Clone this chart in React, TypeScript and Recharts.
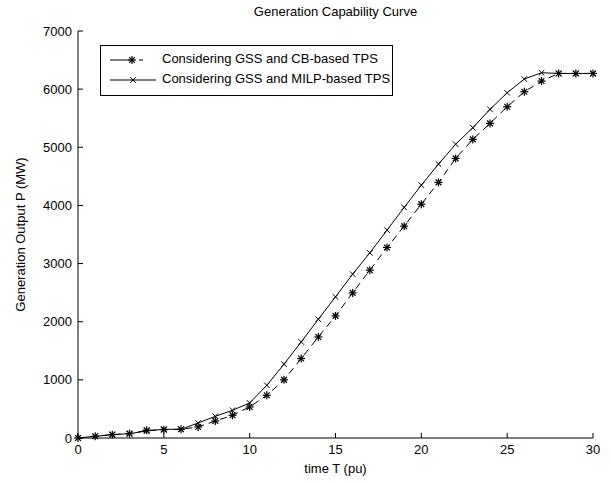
import React from "react";
import {
  CartesianGrid,
  Label,
  Legend,
  Line,
  LineChart,
  XAxis,
  YAxis,
} from "recharts";

// time T (pu)
const timeT = [
  0, 1, 2, 3, 4, 5, 6, 7, 8, 9, 10, 11, 12, 13, 14, 15, 16, 17, 18, 19, 20,
  21, 22, 23, 24, 25, 26, 27, 28, 29, 30,
];
// Considering GSS and CB-based TPS
const cbBased = [
  0, 30, 58, 75, 132, 144, 150, 190, 293, 391, 534, 735, 1000, 1367, 1738,
  2100, 2496, 2886, 3277, 3644, 4022, 4396, 4809, 5136, 5411, 5697, 5955,
  6139, 6270, 6270, 6270,
];
// Considering GSS and MILP-based TPS
const milpBased = [
  0, 30, 58, 75, 120, 150, 150, 258, 373, 477, 602, 907, 1270, 1652, 2043,
  2427, 2818, 3184, 3575, 3966, 4349, 4711, 5053, 5336, 5652, 5938, 6174,
  6282, 6270, 6270, 6270,
];
const xTicks = [0, 5, 10, 15, 20, 25, 30];
const yTicks = [0, 1000, 2000, 3000, 4000, 5000, 6000, 7000];
const seriesNames = [
  "Considering GSS and CB-based TPS",
  "Considering GSS and MILP-based TPS",
];

const data = timeT.map((t, i) => ({ t, cb: cbBased[i], milp: milpBased[i] }));

const FONT = "'Liberation Sans', Arial, Helvetica, sans-serif";
const tickStyle = { fill: "#000", fontSize: 13, fontFamily: FONT };

const StarDot = (props: any) => {
  const { cx, cy } = props;
  if (cx == null || cy == null) return null;
  const r = 4;
  const d = r * 0.72;
  return (
    <g stroke="#000" strokeWidth={1.2}>
      <line x1={cx - r} y1={cy} x2={cx + r} y2={cy} />
      <line x1={cx} y1={cy - r} x2={cx} y2={cy + r} />
      <line x1={cx - d} y1={cy - d} x2={cx + d} y2={cy + d} />
      <line x1={cx - d} y1={cy + d} x2={cx + d} y2={cy - d} />
    </g>
  );
};

const CrossDot = (props: any) => {
  const { cx, cy } = props;
  if (cx == null || cy == null) return null;
  const r = 2.8;
  return (
    <g stroke="#000" strokeWidth={1}>
      <line x1={cx - r} y1={cy - r} x2={cx + r} y2={cy + r} />
      <line x1={cx - r} y1={cy + r} x2={cx + r} y2={cy - r} />
    </g>
  );
};

const NoTick = () => <g />;

const LegendBox = () => (
  <div
    style={{
      width: 293,
      height: 51,
      border: "1px solid #000",
      background: "#fff",
      boxSizing: "border-box",
      fontFamily: FONT,
      fontSize: 13,
      color: "#000",
      position: "relative",
    }}
  >
    <svg width={60} height={51} style={{ position: "absolute", left: 0, top: 0 }}>
      <line x1={9} y1={14} x2={55} y2={14} stroke="#000" strokeDasharray="20 9 4 30" />
      <StarDot cx={31} cy={14} />
      <line x1={9} y1={34} x2={55} y2={34} stroke="#000" />
      <CrossDot cx={32} cy={34} />
    </svg>
    <div style={{ position: "absolute", left: 61, top: 5, whiteSpace: "nowrap" }}>
      {seriesNames[0]}
    </div>
    <div style={{ position: "absolute", left: 61, top: 25, whiteSpace: "nowrap" }}>
      {seriesNames[1]}
    </div>
  </div>
);

export default function App() {
  return (
    <div style={{ position: "absolute", left: 0, top: 0, width: 611, height: 483, background: "#fff" }}>
      <div
        style={{
          position: "absolute",
          left: 78,
          width: 515,
          top: 4,
          textAlign: "center",
          fontFamily: FONT,
          fontSize: 13,
          color: "#000",
        }}
      >
        Generation Capability Curve
      </div>
      <LineChart
        width={611}
        height={483}
        data={data}
        margin={{ top: 31, right: 18, bottom: 0, left: 0 }}
      >
        <CartesianGrid stroke="none" />
        <XAxis
          xAxisId="bottom"
          dataKey="t"
          type="number"
          domain={[0, 30]}
          ticks={xTicks}
          height={45}
          stroke="#000"
          tickSize={-5}
          tickMargin={12}
          tick={tickStyle}
        >
          <Label
            value="time T (pu)"
            position="insideBottom"
            offset={10}
            style={{ fill: "#000", fontSize: 13, fontFamily: FONT }}
          />
        </XAxis>
        <XAxis
          xAxisId="top"
          dataKey="t"
          type="number"
          orientation="top"
          domain={[0, 30]}
          ticks={xTicks}
          height={0}
          stroke="#000"
          tickSize={-5}
          tick={<NoTick />}
        />
        <YAxis
          yAxisId="left"
          type="number"
          domain={[0, 7000]}
          ticks={yTicks}
          width={78}
          stroke="#000"
          tickSize={-5}
          tickMargin={11}
          tick={tickStyle}
        >
          <Label
            value="Generation Output P (MW)"
            angle={-90}
            position="insideLeft"
            offset={20}
            style={{ fill: "#000", fontSize: 13, fontFamily: FONT, textAnchor: "middle" }}
          />
        </YAxis>
        <YAxis
          yAxisId="right"
          type="number"
          orientation="right"
          domain={[0, 7000]}
          ticks={yTicks}
          width={0}
          stroke="#000"
          tickSize={-5}
          tick={<NoTick />}
        />
        <Legend
          layout="horizontal"
          verticalAlign="middle"
          align="center"
          wrapperStyle={{ position: "absolute", left: 100, top: 45, width: 293 }}
          content={() => <LegendBox />}
        />
        <Line
          xAxisId="bottom"
          yAxisId="left"
          type="linear"
          dataKey="cb"
          name={seriesNames[0]}
          stroke="#000"
          strokeWidth={1}
          strokeDasharray="7 5"
          dot={<StarDot />}
          activeDot={false}
          isAnimationActive={false}
        />
        <Line
          xAxisId="bottom"
          yAxisId="left"
          type="linear"
          dataKey="milp"
          name={seriesNames[1]}
          stroke="#000"
          strokeWidth={1}
          dot={<CrossDot />}
          activeDot={false}
          isAnimationActive={false}
        />
      </LineChart>
    </div>
  );
}
